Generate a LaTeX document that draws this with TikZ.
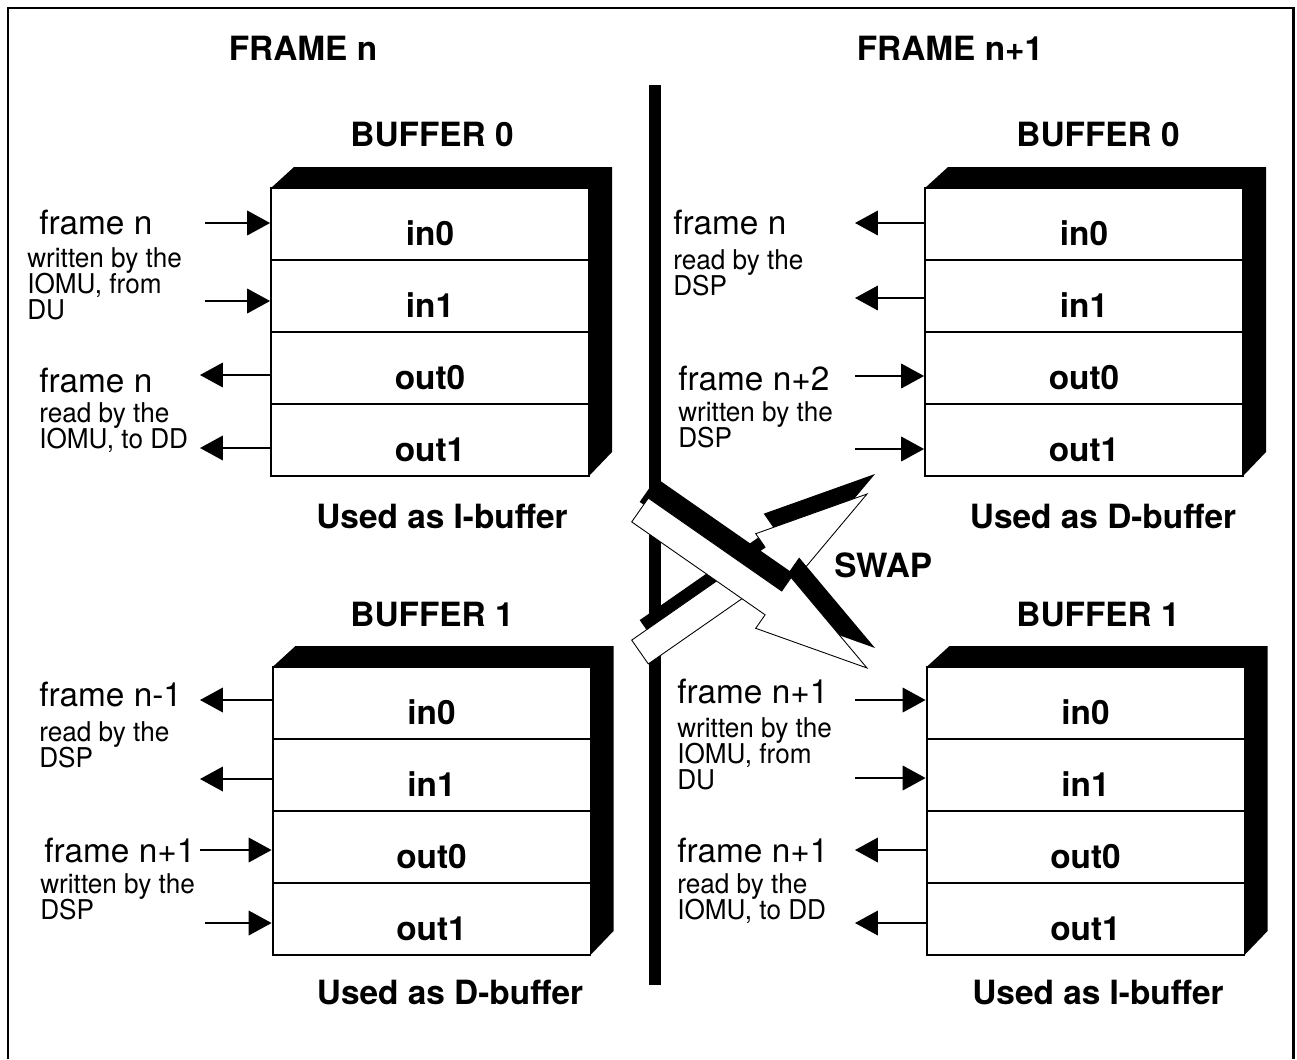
\documentclass[tikz,border=0pt]{standalone}
\usepackage{fontspec}
\setmainfont{TeX Gyre Heros}
\newfontfamily\narrowfont[FakeStretch=0.96]{TeX Gyre Heros}
\newcommand\notefont{\narrowfont\fontsize{15.5}{15}\selectfont\lineskiplimit=-20pt\relax}
\usetikzlibrary{arrows.meta}
\tikzset{
  hdr/.style={font=\fontsize{19}{22}\selectfont\bfseries,inner sep=0pt},
  frm/.style={font=\fontsize{19}{20}\selectfont,anchor=base west,inner sep=0pt},
  nte/.style={font=\notefont,align=left,anchor=north west,inner sep=0pt},
  cell/.style={draw,fill=white,line width=1.1pt,minimum width=6.36cm,minimum height=1.44cm,
               font=\fontsize{19}{22}\selectfont\bfseries,text height=25pt,text depth=0pt,inner sep=0pt},
  ar/.style={-{Triangle[length=13pt,width=14pt]},line width=.85pt},
  swp/.style={fill=white,draw=black,line width=.5pt},
}

\begin{document}
\begin{tikzpicture}[x=0.02cm,y=-0.02cm]
  \useasboundingbox (0,0) rectangle (1297,1059);
  \draw[line width=1.7pt] (8,1059) |- (1293,8) -- (1293,1059);
  \node[hdr] (fn)  at (303,48) {FRAME n};
  \node[hdr] (fn1) at (950,48) {FRAME n+1};
  % frame border
  \fill (649,85) rectangle (661,985);

  % the four buffers, black depth first
  \foreach \nm/\x/\y in {tl/430/188, tr/1084/188, bl/431.5/667, br/1085.5/667}{
    \fill (\x-159,\y) -- ++(23,-21) -- ++(318,0) -- ++(0,285) -- (\x+159,\y+288) -- cycle;
    \foreach \t [count=\i from 0] in {in0,in1,out0,out1}
      \node[cell] (\nm-\t) at (\x,\y+36+72*\i) {\t};
  }
  \node[hdr] (tl-h) at (432,135)  {BUFFER 0};
  \node[hdr] (tr-h) at (1098,135) {BUFFER 0};
  \node[hdr] (bl-h) at (432,615)  {BUFFER 1};
  \node[hdr] (br-h) at (1098,615) {BUFFER 1};
  \node[hdr] (tl-u) at (442,517)  {Used as I-buffer};
  \node[hdr] (tr-u) at (1103,517) {Used as D-buffer};
  \node[hdr] (bl-u) at (450,993)  {Used as D-buffer};
  \node[hdr] (br-u) at (1098,993) {Used as I-buffer};

  % arrows into the buffers
  \foreach \p/\x/\y in {tl-in0/205/223, tl-in1/205/301, tr-out0/855/376, tr-out1/855/449,
                        bl-out0/200/850, bl-out1/205/923, br-in0/855/700, br-in1/855/778}{
    \coordinate (\p-e) at (\x,\y);
    \draw[ar] (\p-e) -- (\p-e -| \p.west);
  }
  % arrows out of the buffers
  \foreach \p/\x/\y in {tl-out0/200/375, tl-out1/200/448, tr-in0/855/223, tr-in1/855/298,
                        bl-in0/200/700, bl-in1/200/779, br-out0/855/850, br-out1/855/923}{
    \coordinate (\p-e) at (\x,\y);
    \draw[ar] (\p-e -| \p.west) -- (\p-e);
  }

  % labels
  \node[frm] (tl-f1) at (39,234)  {frame n};
  \node[nte] (tl-n1) at (27,247) {written by the\\IOMU, from\\DU};
  \node[frm] (tl-f2) at (39,392)  {frame n};
  \node[nte] (tl-n2) at (39,402) {read by the\\IOMU, to DD};
  \node[frm] (tr-f1) at (673,234) {frame n};
  \node[nte] (tr-n1) at (673,249) {read by the\\DSP};
  \node[frm] (tr-f2) at (678,390) {frame n+2};
  \node[nte] (tr-n2) at (678,401) {written by the\\DSP};
  \node[frm] (bl-f1) at (39,706)  {frame n-1};
  \node[nte] (bl-n1) at (39,721) {read by the\\DSP};
  \node[frm] (bl-f2) at (44,862)  {frame n+1};
  \node[nte] (bl-n2) at (40,873) {written by the\\DSP};
  \node[frm] (br-f1) at (677,703) {frame n+1};
  \node[nte] (br-n1) at (677,717) {written by the\\IOMU, from\\DU};
  \node[frm] (br-f2) at (677,862) {frame n+1};
  \node[nte] (br-n2) at (677,873) {read by the\\IOMU, to DD};

  % swap arrows with their shadows
  \fill[shift={(8,-20)}] (631.7,640.1) -- (765.1,547.2) -- (755.7,533.7) -- (867,494)
    -- (791.1,584.5) -- (781.7,571) -- (648.3,663.9) -- cycle;
  \draw[swp] (631.7,640.1) -- (765.1,547.2) -- (755.7,533.7) -- (867,494)
    -- (791.1,584.5) -- (781.7,571) -- (648.3,663.9) -- cycle;
  \fill[shift={(8,-20)}] (631.7,521.9) -- (765.1,614.8) -- (755.7,628.3) -- (867,668)
    -- (791.1,577.5) -- (781.7,591) -- (648.3,498.1) -- cycle;
  \draw[swp] (631.7,521.9) -- (765.1,614.8) -- (755.7,628.3) -- (867,668)
    -- (791.1,577.5) -- (781.7,591) -- (648.3,498.1) -- cycle;
  \node[hdr,anchor=west] (swap) at (834,565) {SWAP};
\end{tikzpicture}
\end{document}
